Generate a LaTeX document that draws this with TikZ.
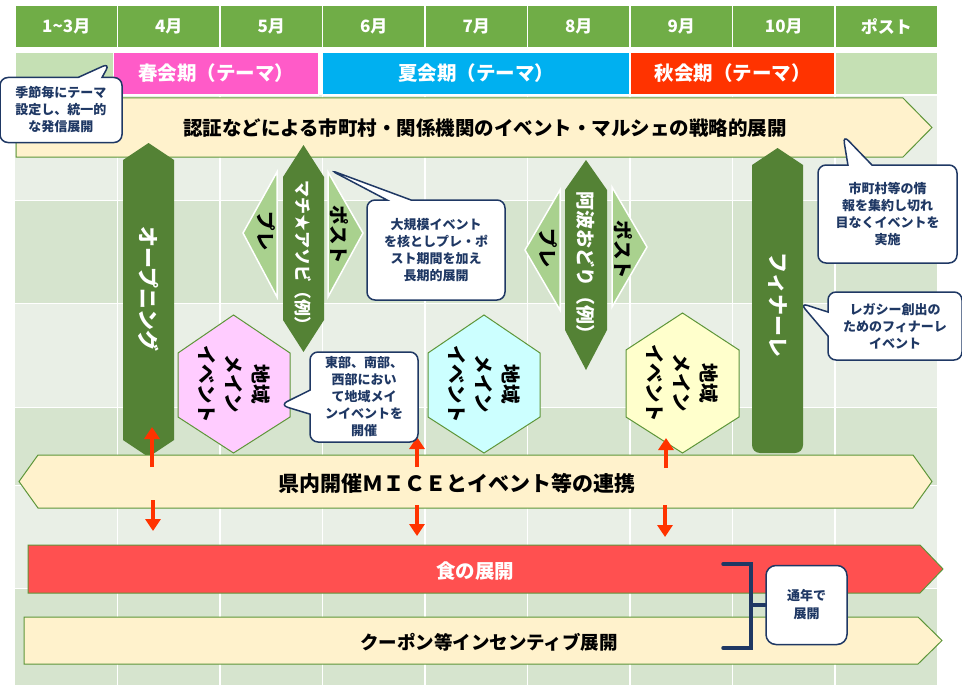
\documentclass[tikz,border=0pt]{standalone}
\usepackage{fontspec}
\setmainfont{Noto Sans CJK JP}
\usetikzlibrary{shapes.callouts,arrows.meta}

\definecolor{hdgreen}{HTML}{70AD47}
\definecolor{ltgreen}{HTML}{C5E0B4}
\definecolor{sprpink}{HTML}{FF5BC8}
\definecolor{sumcyan}{HTML}{00B0F0}
\definecolor{autred}{HTML}{FF3300}
\definecolor{bglite}{HTML}{E9EFE6}
\definecolor{bgdark}{HTML}{D6E4CE}
\definecolor{beige}{HTML}{FFF2CC}
\definecolor{edgegreen}{HTML}{5E9639}
\definecolor{dkgreen}{HTML}{548235}
\definecolor{pregreen}{HTML}{A9D18E}
\definecolor{navy}{HTML}{1F3864}
\definecolor{foodred}{HTML}{FF5050}
\definecolor{hexpink}{HTML}{FFCCFF}
\definecolor{hexcyan}{HTML}{CCFFFF}
\definecolor{hexyel}{HTML}{FFFFCC}

\newcommand{\jpsize}[2]{\fontsize{#1}{#2}\selectfont}

\begin{document}
\begin{tikzpicture}[x=1pt,y=-1pt,
  hdcell/.style={fill=hdgreen,draw=white,line width=1.5pt,minimum width=102.5pt,minimum height=43pt,inner sep=0pt,text=white,font=\bfseries\jpsize{17}{19}},
  seacell/.style={draw=white,line width=1.5pt,minimum height=43pt,inner sep=0pt,text=white,font=\bfseries\jpsize{19.5}{21}},
  band/.style={fill=beige,draw=edgegreen,line width=1pt},
  bandtxt/.style={font=\bfseries\jpsize{19.5}{21}},
  bar/.style={fill=dkgreen},
  side/.style={fill=pregreen,draw=white,line width=1.5pt},
  hexa/.style={draw=edgegreen,line width=1pt},
  vtxt/.style={rotate=-90,inner sep=0pt,font=\bfseries\jpsize{19.5}{21}},
  note/.style={rectangle callout,draw=navy,line width=1.5pt,fill=white,rounded corners=8pt,text=navy,align=center,font=\bfseries\jpsize{13}{17},inner sep=2pt,callout pointer width=24pt},
  redarr/.style={draw=autred,line width=4.5pt,-{Triangle[width=15pt,length=12pt]}},
  brk/.style={draw=navy,line width=3.5pt,line cap=round}]
\useasboundingbox (0,0) rectangle (962,685);

% background grid
\fill[bglite] (15,95) rectangle (937,685);
\fill[bgdark] (15,200) rectangle (937,303);
\fill[bgdark] (15,407) rectangle (937,485);
\fill[bgdark] (15,588) rectangle (937,685);
\foreach \c in {1,...,8}
  \draw[white,line width=1.5pt] ({15+102.5*\c},95) -- ({15+102.5*\c},685);
\foreach \r in {200,303,407,485,588}
  \draw[white,line width=1pt] (15,\r) -- (937,\r);

% months
\node[hdcell] (m0) at (66.25,26.5) {1\textasciitilde3月};
\node[hdcell] (m1) at (168.75,26.5) {4月};
\node[hdcell] (m2) at (271.25,26.5) {5月};
\node[hdcell] (m3) at (373.75,26.5) {6月};
\node[hdcell] (m4) at (476.25,26.5) {7月};
\node[hdcell] (m5) at (578.75,26.5) {8月};
\node[hdcell] (m6) at (681.25,26.5) {9月};
\node[hdcell] (m7) at (783.75,26.5) {10月};
\node[hdcell] (m8) at (886.25,26.5) {ポスト};

% seasons
\node[seacell,fill=ltgreen,minimum width=102.5pt] (pre) at (66.25,73.5) {};
\node[seacell,fill=sprpink,minimum width=205pt] (spring) at (216,73.5) {春会期（テーマ）};
\node[seacell,fill=sumcyan,minimum width=307.5pt] (summer) at (476.25,73.5) {夏会期（テーマ）};
\node[seacell,fill=autred,minimum width=205pt] (autumn) at (732.5,73.5) {秋会期（テーマ）};
\node[seacell,fill=ltgreen,minimum width=102.5pt] (post) at (886.25,73.5) {};

% strategic band
\draw[band] (16,98) -- (903,98) -- (932,127.5) -- (903,157) -- (16,157) -- cycle;
\node[bandtxt] (ninsho) at (485,128) {認証などによる市町村・関係機関のイベント・マルシェの戦略的展開};

% opening and finale
\fill[bar] (123,160) -- (148.5,143) -- (174,160) -- (174,440) -- (148.5,457) -- (123,440) -- cycle;
\node[vtxt,text=white,font=\bfseries\jpsize{21}{23}] (opening) at (148.5,289) {オープニング};
\fill[bar] (752,165) -- (777.5,148) -- (803,165) [rounded corners=8pt] -- (803,453) -- (752,453) [sharp corners] -- cycle;
\node[vtxt,text=white,font=\bfseries\jpsize{21}{23}] (finale) at (777.5,305) {フィナーレ};

% machi asobi
\draw[side] (243,233) -- (277,172) -- (277,297) -- cycle;
\draw[side] (328,172) -- (363,233) -- (328,297) -- cycle;
\node[vtxt] (machipre) at (266,231) {プレ};
\node[vtxt] (machipost) at (339,235) {ポスト};
\fill[bar] (303.5,145) -- (324,177) -- (324,320) -- (303.5,352) -- (283,320) -- (283,177) -- cycle;
\node[vtxt,text=white,font=\bfseries\jpsize{17}{19}] (machi) at (303.5,257) {マチ★アソビ（例）};

% awa odori
\draw[side] (525,250) -- (560,190) -- (560,310) -- cycle;
\draw[side] (612,187) -- (647,247) -- (612,307) -- cycle;
\node[vtxt] (awapre) at (548,248) {プレ};
\node[vtxt] (awapost) at (623,250) {ポスト};
\fill[bar] (586,160) -- (607,190) -- (607,330) -- (586,370) -- (565,330) -- (565,190) -- cycle;
\node[vtxt,text=white,font=\bfseries\jpsize{19}{21}] (awa) at (586,267) {阿波おどり（例）};

% regional main events
\draw[hexa,fill=hexpink] (233.5,315) -- (290,353) -- (290,417) -- (233.5,453) -- (178,417) -- (178,353) -- cycle;
\node[vtxt,align=center,font=\bfseries\jpsize{19.5}{27}] (east) at (234,384) {地域\\メイン\\イベント};
\draw[hexa,fill=hexcyan] (484,315) -- (540,353) -- (540,417) -- (484,453) -- (428,417) -- (428,353) -- cycle;
\node[vtxt,align=center,font=\bfseries\jpsize{19.5}{27}] (south) at (484,384) {地域\\メイン\\イベント};
\draw[hexa,fill=hexyel] (682.5,313) -- (739,350) -- (739,417) -- (682.5,453) -- (626,417) -- (626,350) -- cycle;
\node[vtxt,align=center,font=\bfseries\jpsize{19.5}{27}] (west) at (682.5,383) {地域\\メイン\\イベント};

% MICE band
\draw[band] (19,481.5) -- (38,455) -- (913,455) -- (932,481.5) -- (913,508) -- (38,508) -- cycle;
\coordinate (mtop) at (475,455);
\coordinate (mbot) at (475,508);
\node[bandtxt,font=\bfseries\jpsize{21}{23}] (mice) at (457,483) {県内開催ＭＩＣＥとイベント等の連携};

% food and coupon bands
\draw[band,fill=foodred] (28,545) -- (920,545) -- (943,569) -- (920,593) -- (28,593) -- cycle;
\node[bandtxt,text=white] (food) at (475,571) {食の展開};
\draw[band] (24,617) -- (918,617) -- (942,640.5) -- (918,664) -- (24,664) -- cycle;
\node[bandtxt,font=\bfseries\jpsize{18.5}{21}] (coupon) at (489,642) {クーポン等インセンティブ展開};

% links between MICE and events
\coordinate (u1) at (152,427);
\coordinate (u2) at (417,437);
\coordinate (u3) at (666,438);
\coordinate (d1) at (153,531);
\coordinate (d2) at (417,536);
\coordinate (d3) at (665,537);
\draw[redarr] ([yshift=-12pt]mtop -| u1) -- (u1);
\draw[redarr] ([yshift=-12pt]mtop -| u2) -- (u2);
\draw[redarr] ([yshift=-13pt]mtop -| u3) -- (u3);
\draw[redarr] ([yshift=8pt]mbot -| d1) -- (d1);
\draw[redarr] ([yshift=3pt]mbot -| d2) -- (d2);
\draw[redarr] ([yshift=3pt]mbot -| d3) -- (d3);

% all year bracket
\draw[brk] (723,564) -- (751,564) -- (751,648) -- (723,648);
\node[draw=navy,line width=1.5pt,fill=white,rounded corners=10pt,minimum width=81pt,minimum height=79pt,text=navy,align=center,font=\bfseries\jpsize{13}{18}] (year) at (806.5,605) {通年で\\展開};
\draw[brk] (year.west -| 751,0) -- (year.west);

% callouts
\node[note,minimum width=122pt,minimum height=65pt,callout absolute pointer={(110,63)}] (theme) at (61,110) {季節毎にテーマ\\設定し、統一的\\な発信展開};
\node[note,minimum width=138pt,minimum height=100pt,callout absolute pointer={(330,170)}] (bigev) at (436,250) {大規模イベント\\を核としプレ・ポ\\スト期間を加え\\長期的展開};
\node[note,minimum width=108pt,minimum height=90pt,callout absolute pointer={(280,405)}] (region) at (364,397) {東部、南部、\\西部におい\\て地域メイ\\ンイベントを\\開催};
\node[note,minimum width=139pt,minimum height=98pt,callout absolute pointer={(843,135)}] (muni) at (887.5,214) {市町村等の情\\報を集約し切れ\\目なくイベントを\\実施};
\node[note,minimum width=134pt,minimum height=68pt,callout absolute pointer={(800,303)}] (legacy) at (895,326) {レガシー創出の\\ためのフィナーレ\\イベント};
\end{tikzpicture}
\end{document}
